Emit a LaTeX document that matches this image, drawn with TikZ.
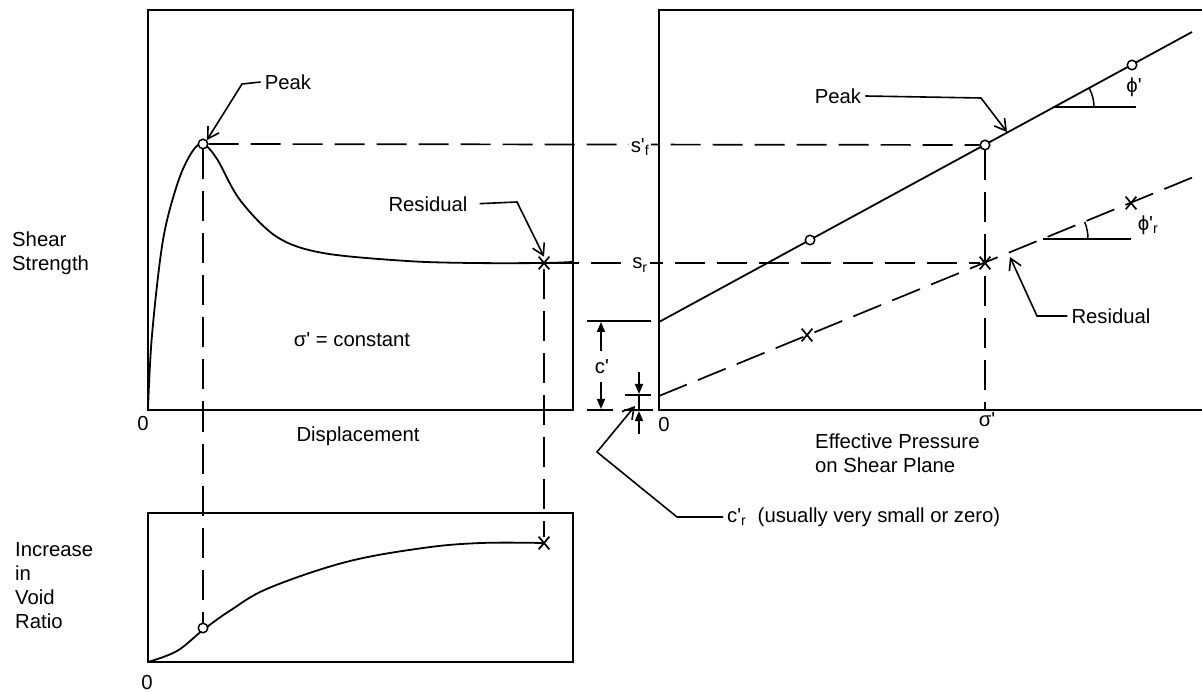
\documentclass[tikz,border=0pt]{standalone}
\usepackage{fontspec}
\setmainfont{Liberation Sans}
\newfontfamily\plainsans{Liberation Sans}
\usetikzlibrary{arrows.meta,shapes.misc}

\tikzset{
  frame/.style={line width=2pt},
  trace/.style={line width=1.8pt},
  guide/.style={line width=1.7pt, dash pattern=on 30pt off 12pt},
  leader/.style={line width=1.6pt, -{Straight Barb[length=11pt,width=13pt]}},
  dimarrow/.style={line width=1.6pt, -{Triangle[length=10pt,width=8pt]}},
  ring/.style={circle, draw, fill=white, line width=1.5pt, inner sep=0pt, minimum size=9.5pt},
  cross/.style={cross out, draw, line width=1.7pt, inner sep=0pt, minimum width=9pt, minimum height=11pt},
  lbl/.style={inner sep=4pt},
  sublbl/.style={inner sep=2pt, fill=white}
}

\begin{document}
\begin{tikzpicture}[x=1pt, y=-1pt, font=\plainsans\fontsize{20.3}{24}\selectfont]
\useasboundingbox (0,0) rectangle (1202,692);

% curves of the left panels
\draw[trace] plot[smooth, tension=0.55] coordinates {(148,409) (152,335) (163,240) (178,182) (192,152) (203,144) (217,159) (240,200) (277,237) (323,253) (407,261) (473,263) (543,263) (572,262)};
\draw[trace] plot[smooth, tension=0.6] coordinates {(148,662) (177,651) (203,630) (231,610) (269,588) (346,562) (423,548) (481,543) (544,543)};

% envelopes on the right
\coordinate (pkInt) at (659,322);
\coordinate (pkEnd) at (1192,32);
\coordinate (rsInt) at (659,396);
\coordinate (rsEnd) at (1196,176);
\draw[trace] (pkInt) -- (pkEnd);
\draw[guide] (rsInt) -- (rsEnd);

% markers
\node[ring] (pkA) at (203,144) {};
\node[ring] (pkB) at (203,628) {};
\node[ring] (pkC) at (985,145) {};
\node[ring] (pkD) at (810,240) {};
\node[ring] (pkE) at (1132,65) {};
\node[cross] (rsA) at (544,263) {};
\node[cross] (rsB) at (544,543) {};
\node[cross] (rsC) at (985,263) {};
\node[cross] (rsD) at (807,335) {};
\node[cross] (rsE) at (1131,203) {};

% projection lines
\coordinate (sig) at (985,410);
\draw[guide] (pkA) -- (pkC);
\draw[guide] (rsA) -- (rsC);
\draw[guide] (pkA) -- (pkB);
\draw[guide] (rsA) -- (rsB);
\draw[guide] (pkC) -- (sig);
\node[sublbl] (sf) at (640,147) {s'\textsubscript{f}};
\node[sublbl] (sr) at (640,265) {s\textsubscript{r}};

% frames
\draw[frame] (148,10) rectangle (573,410);
\draw[frame] (148,513) rectangle (573,662);
\draw[frame] (1202,10) -- (659,10) -- (659,410) -- (1202,410);

% angles
\coordinate (phA) at (1055,107);
\coordinate (phB) at (1136,107);
\coordinate (phrA) at (1043,239);
\coordinate (phrB) at (1131,239);
\draw[trace] (phA) -- (phB);
\draw[trace] (phrA) -- (phrB);
\draw[line width=1.5pt] (1094,107) arc[start angle=0, end angle=-28.5, radius=39];
\draw[line width=1.5pt] (1088,239) arc[start angle=0, end angle=-22.3, radius=45];
\node[lbl] (phi) at (1134,87) {ϕ'};
\node[lbl] (phir) at (1148,225) {ϕ'\textsubscript{r}};

% c' and c'_r dimensions
\draw[frame] (587,321) -- (651,321);
\draw[frame] (587,410) -- (613,410);
\draw[frame] (625,395) -- (651,395);
\draw[frame] (624,410) -- (653,410);
\draw[dimarrow] (601,351) -- (601,322);
\draw[dimarrow] (601,382) -- (601,409);
\node[lbl] (cp) at (602,367) {c'};
\draw[dimarrow] (639,372) -- (639,394);
\draw[line width=1.6pt] (639,395) -- (639,410);
\draw[dimarrow] (639,434) -- (639,411);

% labels and leaders
\node[lbl] (pkLtxt) at (288,82) {Peak};
\coordinate (pkLbend) at (242,84);
\draw[leader] (pkLtxt.west) -- (pkLbend) -- (pkA.north east);

\node[lbl] (rsLtxt) at (428,204) {Residual};
\coordinate (rsLbend) at (517,202);
\draw[leader, shorten <=8pt] (rsLtxt.east) -- (rsLbend) -- (rsA.north);

\node[lbl] (pkRtxt) at (838,96) {Peak};
\coordinate (pkRbend) at (981,98);
\coordinate (pkRtip) at (1007,132);
\draw[leader] (pkRtxt.east) -- (pkRbend) -- (pkRtip);

\node[lbl] (rsRtxt) at (1111,316) {Residual};
\coordinate (rsRbend) at (1037,316);
\coordinate (rsRtip) at (1010,257);
\draw[leader] (rsRtxt.west) -- (rsRbend) -- (rsRtip);

\node[lbl, anchor=west] (crtxt) at (723,517) {c'\textsubscript{r}\ \ (usually very small or zero)};
\coordinate (crbend) at (677,517);
\coordinate (crknee) at (597,452);
\coordinate (crtip) at (635,406);
\draw[leader] (crtxt.west) -- (crbend) -- (crknee) -- (crtip);

\node[lbl] (const) at (352,340) {σ' = constant};

% axis texts
\node[lbl] (zeroA) at (143,424) {0};
\node[lbl] (zeroB) at (664,425) {0};
\node[lbl] (zeroC) at (147,683) {0};
\node[lbl] (disp) at (358,436) {Displacement};
\node[lbl] (sigma) at (987,420) {σ'};
\node[lbl, anchor=west, align=left] (press) at (811,453) {Effective Pressure\\on Shear Plane};
\node[lbl, anchor=west, align=left] (shear) at (8,253) {Shear\\Strength};
\node[lbl, anchor=west, align=left, font=\plainsans\fontsize{20.3}{24}\selectfont] (voids) at (11,586) {Increase\\in\\Void\\Ratio};
\end{tikzpicture}
\end{document}
